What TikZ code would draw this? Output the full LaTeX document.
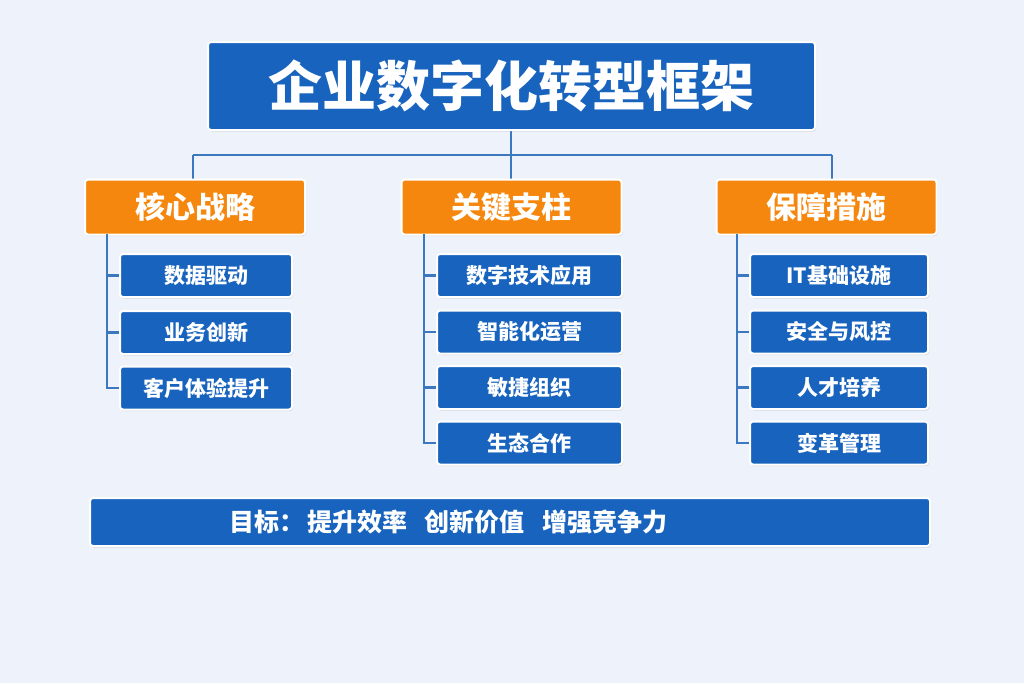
\documentclass[tikz,border=0pt]{standalone}
\usepackage{fontspec}
\setmainfont{Noto Sans CJK SC}
\usetikzlibrary{shadows}
\definecolor{bg}{HTML}{EEF3FB}
\definecolor{blu}{HTML}{1763BE}
\definecolor{ora}{HTML}{F5870E}
\definecolor{ln}{HTML}{3C78C0}
\tikzset{
 box/.style={draw=white,line width=2pt,rounded corners=3pt,drop shadow={opacity=0.25,shadow xshift=1pt,shadow yshift=-1.5pt},text=white,font=\bfseries,inner sep=0pt},
 sub/.style={box,fill=blu,minimum width=172pt,minimum height=43pt,font=\bfseries\fontsize{21}{21}\selectfont},
 cat/.style={box,fill=ora,minimum width=220pt,minimum height=55pt,font=\bfseries\fontsize{30}{30}\selectfont},
 con/.style={ln,line width=2.5pt}
}
\begin{document}
\begin{tikzpicture}[x=1pt,y=-1pt]
\fill[bg] (0,0) rectangle (1024,683);
\useasboundingbox (0,0) rectangle (1024,683);
\coordinate (j) at (511,155);
\coordinate (jl) at (193,155);
\coordinate (jr) at (832,155);
\draw[con] (511,130) -- (j);
\draw[con] (jl) -- (jr);
\draw[con] (jl) -- (193,180);
\draw[con] (j) -- (511,180);
\draw[con] (jr) -- (832,180);
\node[box,fill=blu,minimum width=607pt,minimum height=88pt,font=\bfseries\fontsize{54}{54}\selectfont] (t) at (511.5,86) {企业数字化转型框架};
\node[cat] (c1) at (195,207) {核心战略};
\node[cat] (c2) at (511.5,207) {关键支柱};
\node[cat] (c3) at (826.5,207) {保障措施};
% left
\coordinate (la) at (107,234);
\draw[con] (la) -- (107,388) -- (130,388);
\draw[con] (107,275.5) -- (130,275.5);
\draw[con] (107,332.5) -- (130,332.5);
\node[sub] (a1) at (206,275.5) {数据驱动};
\node[sub] (a2) at (206,332.5) {业务创新};
\node[sub] (a3) at (206,388) {客户体验提升};
% middle
\coordinate (lb) at (424,234);
\draw[con] (lb) -- (424,443) -- (450,443);
\foreach \yy in {275.5,332,387.5}{\draw[con] (424,\yy) -- (450,\yy);}
\node[sub,minimum width=185pt] (b1) at (529.5,275.5) {数字技术应用};
\node[sub,minimum width=185pt] (b2) at (529.5,332) {智能化运营};
\node[sub,minimum width=185pt] (b3) at (529.5,387.5) {敏捷组织};
\node[sub,minimum width=185pt] (b4) at (529.5,443) {生态合作};
% right
\coordinate (ld) at (737,234);
\draw[con] (ld) -- (737,443) -- (760,443);
\foreach \yy in {275.5,332,387.5}{\draw[con] (737,\yy) -- (760,\yy);}
\node[sub,minimum width=178pt] (d1) at (839,275.5) {IT基础设施};
\node[sub,minimum width=178pt] (d2) at (839,332) {安全与风控};
\node[sub,minimum width=178pt] (d3) at (839,387.5) {人才培养};
\node[sub,minimum width=178pt] (d4) at (839,443) {变革管理};
% goal
\node[sub,minimum width=840pt,minimum height=48pt] (g) at (510,522) {};
\node[text=white,font=\bfseries\fontsize{25}{25}\selectfont,anchor=west] (gt) at (226,522) {目标：\hspace{0.1em}提升效率\hspace{0.7em}创新价值\hspace{0.7em}增强竞争力};
\end{tikzpicture}
\end{document}
